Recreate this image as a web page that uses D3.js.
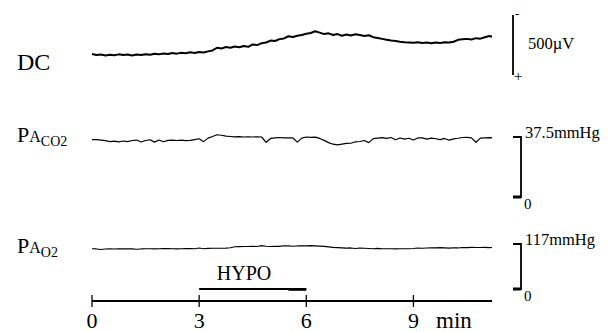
<!DOCTYPE html>
<html><head><meta charset="utf-8">
<script src="https://cdn.jsdelivr.net/npm/d3@7"></script>
<style>html,body{margin:0;padding:0;background:#fff;}svg{display:block;font-family:"Liberation Serif","Times New Roman",serif;}</style>
</head><body><svg id="c" width="613" height="332"></svg>
<script>
// time grid (minutes), sample every 0.125 min
const timeMin = d3.range(0, 11.2, 0.125).concat([11.2]);
// DC potential deflection (µV, upward drawn)
const dcValues = [0,-8,-4,-12,-6,-10,-3,-9,-5,-12,-4,-8,-2,-7,2,-3,4,0,8,3,10,6,14,9,16,12,22,30,52,46,58,52,62,56,66,60,80,74,90,96,112,108,124,130,148,142,152,158,168,175,190,178,166,172,158,166,152,162,154,164,158,150,156,140,134,126,118,112,108,102,98,96,94,98,92,96,90,96,92,98,96,102,118,122,126,120,132,128,140,150,144];
// Alveolar PCO2 (mmHg)
const paco2Values = [35.8,35.9,35.6,35.2,34.6,34.9,34.5,35.0,34.6,35.3,35.6,34.4,35.3,35.8,34.3,35.6,34.5,35.4,35.6,35.3,35.5,35.2,35.4,35.9,36.4,34.6,36.8,37.8,38.9,38.6,38.0,37.8,37.6,37.7,37.5,37.6,37.5,37.6,37.5,34.2,36.6,37.0,37.2,36.9,37.0,36.9,34.3,36.8,37.5,37.3,37.4,36.6,35.4,34.0,33.0,32.6,33.1,33.5,33.6,34.5,34.7,35.3,34.0,36.5,36.8,37.1,36.6,37.2,35.8,36.9,36.2,36.7,35.6,36.9,37.0,36.2,36.8,36.4,35.9,36.6,35.5,36.3,36.7,37.2,37.3,37.0,34.2,36.8,37.0,37.1,37.0];
// Alveolar PO2 (mmHg)
const pao2Values = [104.5,104.2,102.8,104.0,104.3,104.1,104.4,104.2,104.5,104.3,103.2,104.2,104.5,104.6,104.4,104.8,105.2,104.9,104.6,104.4,104.7,104.9,105.3,104.8,106.5,104.6,105.5,105.8,106.0,105.9,106.4,107.2,109.8,110.2,110.5,110.4,110.8,110.5,112.8,111.0,110.6,111.2,110.9,112.6,112.2,111.0,112.0,112.4,112.0,112.8,112.1,111.5,110.8,109.6,108.2,107.6,107.0,106.2,106.8,105.4,106.6,105.8,105.2,104.8,105.6,104.8,104.5,104.6,104.4,104.6,104.8,104.5,105.2,106.4,105.8,106.6,107.0,106.8,107.5,106.9,106.2,107.4,106.8,108.0,107.6,108.2,108.0,107.8,108.1,107.6,107.8];
// axis ticks
const tickValues = [0, 3, 6, 9];
const tickLabels = ["0", "3", "6", "9"];
const axisUnit = "min";
const hypoPeriod = [3, 6];
const hypoLabel = "HYPO";
const dcScaleBar = 500, paco2Scale = [0, 37.5], pao2Scale = [0, 117];
const scaleLabels = ["500µV", "37.5mmHg", "117mmHg", "0"];

const svg = d3.select("#c");
const x = d3.scaleLinear().domain([0, 11.2]).range([92, 492]);
const yDC = d3.scaleLinear().domain([0, 500]).range([54, -6]);
const yCO2 = d3.scaleLinear().domain(paco2Scale).range([197, 137]);
const yO2 = d3.scaleLinear().domain(pao2Scale).range([289, 244]);

function trace(vals, y, w) {
  svg.append("path")
    .attr("d", d3.line().x((d, i) => x(timeMin[i])).y(d => y(d))(vals))
    .attr("fill", "none").attr("stroke", "#000").attr("stroke-width", w)
    .attr("stroke-linejoin", "round");
}
trace(dcValues, yDC, 2);
trace(paco2Values, yCO2, 1.2);
trace(pao2Values, yO2, 1.1);

// left labels
svg.append("text").attr("x", 17).attr("y", 70).attr("font-size", 24).text("DC");
function pLabel(yb, sub) {
  const t = svg.append("text").attr("x", 17).attr("y", yb).attr("font-size", 22);
  t.append("tspan").text("P");
  t.append("tspan").attr("font-size", 16).text("A");
  t.append("tspan").attr("font-size", 14).attr("dy", 4).text(sub);
}
pLabel(142, "CO2");
pLabel(253, "O2");

// DC scale bar (length = 500 µV on the DC scale)
const bx = 513, barTop = 15;
svg.append("line").attr("x1", bx).attr("x2", bx)
  .attr("y1", barTop).attr("y2", barTop + (yDC(0) - yDC(dcScaleBar)))
  .attr("stroke", "#000").attr("stroke-width", 1.8);
svg.append("text").attr("x", bx + 2).attr("y", 18).attr("font-size", 13).text("-");
svg.append("text").attr("x", bx + 1).attr("y", 81).attr("font-size", 15).text("+");
svg.append("text").attr("x", 528).attr("y", 49).attr("font-size", 16.5).text(scaleLabels[0]);

function bracket(y, dom, lbl) {
  const vx = 521, hx = 513;
  svg.append("path").attr("d", `M${hx},${y(dom[1])}H${vx}V${y(dom[0])}H${hx}`)
    .attr("fill", "none").attr("stroke", "#000").attr("stroke-width", 1.8);
  svg.append("line").attr("x1", hx).attr("x2", vx).attr("y1", y(dom[0])).attr("y2", y(dom[0]))
    .attr("stroke", "#000").attr("stroke-width", 3);
  svg.append("text").attr("x", 525).attr("y", y(dom[1]) + 1).attr("font-size", 16.5).text(lbl);
  svg.append("text").attr("x", 524).attr("y", y(dom[0]) + 12).attr("font-size", 15).text(scaleLabels[3]);
}
bracket(yCO2, paco2Scale, scaleLabels[1]);
bracket(yO2, pao2Scale, scaleLabels[2]);

// HYPO period
svg.append("line").attr("x1", x(hypoPeriod[0])).attr("x2", x(hypoPeriod[1])).attr("y1", 289).attr("y2", 289)
  .attr("stroke", "#000").attr("stroke-width", 2);
svg.append("line").attr("x1", x(5.5)).attr("x2", x(hypoPeriod[1])).attr("y1", 289.5).attr("y2", 289.5)
  .attr("stroke", "#000").attr("stroke-width", 2.6);
svg.append("text").attr("x", 244).attr("y", 280).attr("text-anchor", "middle").attr("font-size", 20).text(hypoLabel);

// time axis
const axisY = 301;
svg.append("line").attr("x1", x(0)).attr("x2", x(11.2)).attr("y1", axisY).attr("y2", axisY)
  .attr("stroke", "#000").attr("stroke-width", 2);
svg.selectAll(".tk").data(tickValues).enter().append("line")
  .attr("x1", d => x(d)).attr("x2", d => x(d)).attr("y1", axisY - 6).attr("y2", axisY + 6)
  .attr("stroke", "#000").attr("stroke-width", 1.3);
svg.selectAll(".tl").data(tickValues).enter().append("text")
  .attr("x", d => x(d)).attr("y", 328).attr("text-anchor", "middle").attr("font-size", 22)
  .text((d, i) => tickLabels[i]);
svg.append("text").attr("x", 436).attr("y", 328).attr("font-size", 23).text(axisUnit);
</script></body></html>
